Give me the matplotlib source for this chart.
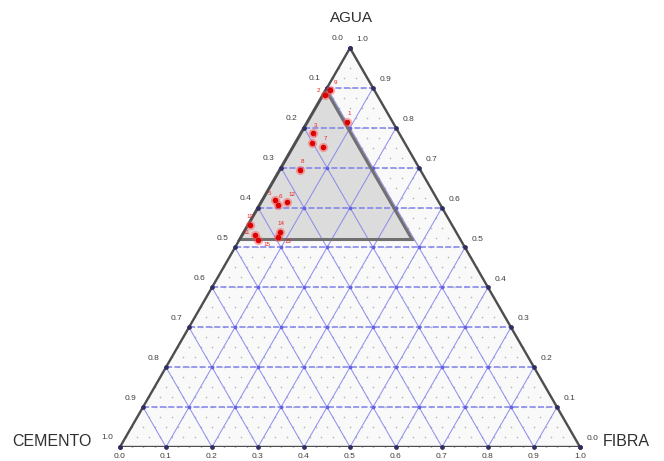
import numpy as np
import matplotlib
matplotlib.use('Agg')
import matplotlib.pyplot as plt
from matplotlib.patches import Polygon

plt.rcParams['font.family'] = ['Liberation Sans', 'DejaVu Sans']

# ---------------- data ----------------
axis_names = ['CEMENTO', 'AGUA', 'FIBRA']
tick_values = [0.0, 0.1, 0.2, 0.3, 0.4, 0.5, 0.6, 0.7, 0.8, 0.9, 1.0]
tick_labels = ['0.0', '0.1', '0.2', '0.3', '0.4', '0.5', '0.6', '0.7', '0.8', '0.9', '1.0']

# constrained (shaded) design region
region_cemento_min = 0.105
region_agua_min = 0.52

pt_labels = ['2', '9', '1', '3', '4', '7', '8', '5', '12', '6', '10', '11', '14', '13', '15']
pt_cemento = [0.113, 0.096, 0.100, 0.187, 0.203, 0.183, 0.262, 0.354, 0.330, 0.353, 0.440, 0.441, 0.383, 0.394, 0.440]
pt_agua    = [0.882, 0.895, 0.815, 0.786, 0.761, 0.752, 0.694, 0.619, 0.615, 0.607, 0.556, 0.531, 0.539, 0.526, 0.519]
pt_fibra   = [0.005, 0.009, 0.085, 0.027, 0.036, 0.065, 0.044, 0.027, 0.055, 0.040, 0.004, 0.028, 0.078, 0.080, 0.041]

# label placement (offset in points), layout only
label_offsets = {'2': (-5, 3), '9': (4, 5), '11': (-6, 2), '15': (6, -3),
                 '13': (7, -3), '14': (1, 6), '10': (0, 6), '5': (-4, 5),
                 '12': (4, 5)}

# ---------------- helpers ----------------
H = np.sqrt(3) / 2


def to_xy(c, a, f):
    c = np.asarray(c, float); a = np.asarray(a, float); f = np.asarray(f, float)
    s = c + a + f
    return (f + a / 2) / s, a * H / s


fig = plt.figure(figsize=(6.64, 4.61), dpi=100)
ax = fig.add_axes([120 / 664, (461 - 447) / 461, 460 / 664, 399 / 461])
ax.set_xlim(0, 1)
ax.set_ylim(0, H)
ax.axis('off')

# background of triangle
tri = Polygon([to_xy(1, 0, 0), to_xy(0, 1, 0), to_xy(0, 0, 1)], closed=True,
              facecolor='#f9f9f9', edgecolor='none', zorder=0)
ax.add_patch(tri)

# fine dotted lattice
step = 0.025
n = int(round(1 / step))
xs, ys = [], []
for i in range(n + 1):
    for j in range(n + 1 - i):
        a = i * step
        f = j * step
        c = 1 - a - f
        x, y = to_xy(c, a, f)
        xs.append(x); ys.append(y)
ax.scatter(xs, ys, s=1.3, color='#b4b4b4', zorder=1, linewidths=0)

# shaded region
cmin, amin = region_cemento_min, region_agua_min
reg = Polygon([to_xy(cmin, 1 - cmin, 0), to_xy(1 - amin, amin, 0),
               to_xy(cmin, amin, 1 - amin - cmin)], closed=True,
              facecolor='#dcdcdc', edgecolor='none', zorder=1.5)
ax.add_patch(reg)

# blue grid
gcol = '#8080ec'
for t in tick_values[1:-1]:
    # constant AGUA (horizontal)
    x0, y0 = to_xy(1 - t, t, 0); x1, y1 = to_xy(0, t, 1 - t)
    ax.plot([x0, x1], [y0, y1], color=gcol, lw=1.1, ls=(0, (4, 1.5)), zorder=2)
    # constant CEMENTO
    x0, y0 = to_xy(t, 1 - t, 0); x1, y1 = to_xy(t, 0, 1 - t)
    ax.plot([x0, x1], [y0, y1], color=gcol, lw=0.75, alpha=0.85, zorder=2)
    # constant FIBRA
    x0, y0 = to_xy(0, 1 - t, t); x1, y1 = to_xy(1 - t, 0, t)
    ax.plot([x0, x1], [y0, y1], color=gcol, lw=0.75, alpha=0.85, zorder=2)

# intersection dots
ix, iy = [], []
for i in range(1, 10):
    for j in range(1, 10 - i):
        a = i / 10; f = j / 10; c = 1 - a - f
        x, y = to_xy(c, a, f)
        ix.append(x); iy.append(y)
ax.scatter(ix, iy, s=7, color='#6262e0', zorder=2.5, linewidths=0)

# region outline
ax.add_patch(Polygon([to_xy(cmin, 1 - cmin, 0), to_xy(1 - amin, amin, 0),
                      to_xy(cmin, amin, 1 - amin - cmin)], closed=True,
                     facecolor='none', edgecolor='#707070', lw=2.2, zorder=3))

# triangle edges
ecol = '#4d4d4d'
corners = [to_xy(1, 0, 0), to_xy(0, 1, 0), to_xy(0, 0, 1), to_xy(1, 0, 0)]
ax.plot([p[0] for p in corners], [p[1] for p in corners], color=ecol, lw=1.7,
        zorder=3, solid_joinstyle='miter')

# ticks and labels
tk = dict(fontsize=6, color='#404040', ha='center', va='center', clip_on=False)
for t, lab in zip(tick_values, tick_labels):
    # left axis: CEMENTO
    x, y = to_xy(t, 1 - t, 0)
    ax.plot(x, y, 'o', ms=2.4, color='#303060', zorder=4, clip_on=False)
    ax.annotate(lab, (x, y), xytext=(-9, 6.5), textcoords='offset points', **tk)
    # right axis: AGUA
    x, y = to_xy(0, t, 1 - t)
    ax.plot(x, y, 'o', ms=2.4, color='#303060', zorder=4, clip_on=False)
    ax.annotate(lab, (x, y), xytext=(9, 6), textcoords='offset points', **tk)
    # bottom axis: FIBRA
    x, y = to_xy(1 - t, 0, t)
    ax.plot(x, y, 'o', ms=2.4, color='#303060', zorder=4, clip_on=False)
    ax.annotate(lab, (x, y), xytext=(0, -6.5), textcoords='offset points', **tk)

# data points
px, py = to_xy(pt_cemento, pt_agua, pt_fibra)
ax.scatter(px, py, s=45, color='#ff5050', alpha=0.45, zorder=5, linewidths=0)
ax.scatter(px, py, s=16, color='#dd0000', zorder=6, linewidths=0)
for x, y, lab in zip(px, py, pt_labels):
    off = label_offsets.get(lab, (2, 6))
    ax.annotate(lab, (x, y), xytext=off, textcoords='offset points',
                fontsize=4.5, color='#ee2020', ha='center', va='center', zorder=7)

# axis titles
fig.text(351 / 664, 1 - 18 / 461, axis_names[1], ha='center', va='center',
         fontsize=11, color='#303030')
fig.text(92 / 664, 1 - 441 / 461, axis_names[0], ha='right', va='center',
         fontsize=11.5, color='#303030')
fig.text(603 / 664, 1 - 441 / 461, axis_names[2], ha='left', va='center',
         fontsize=11.5, color='#303030')

fig.savefig('out.png', dpi=100, facecolor='white')
